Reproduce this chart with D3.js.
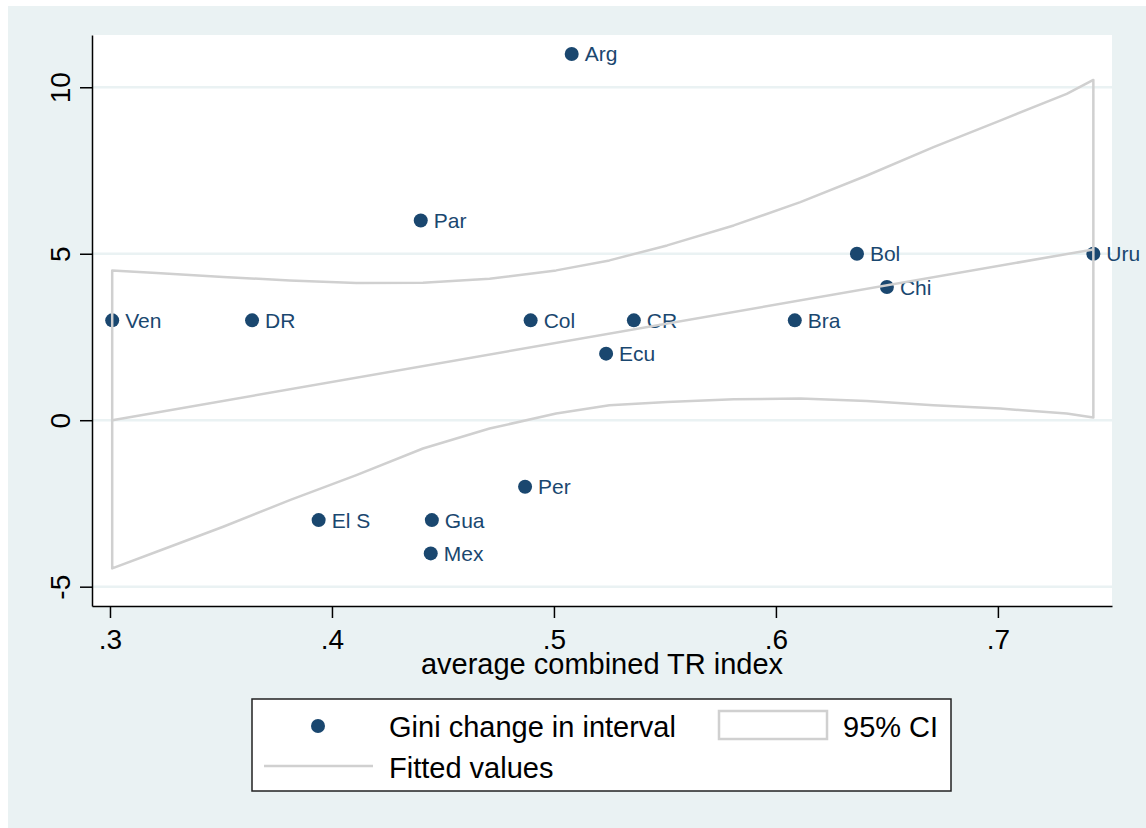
<!DOCTYPE html>
<html>
<head>
  <meta charset="utf-8">
  <title>Gini change vs TR index</title>
  <style>
  body { margin: 0; background: #fff; }
  svg text { font-family: "Liberation Sans", Arial, sans-serif; }
  .tick text { font-size: 28px; fill: #000; }
  .axisTitle { font-size: 29px; fill: #000; }
  .ptLabel { font-size: 21px; fill: #1a476f; }
  .legendText { font-size: 29px; fill: #000; }
  </style>
</head>
<body>
<script src="https://cdn.jsdelivr.net/npm/d3@7/dist/d3.min.js"></script>
<script>
  // scatter: country, average combined TR index, Gini change in interval
  const countries = ["Ven", "DR", "El S", "Par", "Gua", "Mex", "Per", "Col", "Arg", "Ecu", "CR", "Bra", "Bol", "Chi", "Uru"];
  const trIndex = [0.301, 0.364, 0.394, 0.440, 0.445, 0.4445, 0.487, 0.4895, 0.508, 0.5235, 0.536, 0.6085, 0.6365, 0.650, 0.743];
  const giniChange = [3, 3, -3, 6, -3, -4, -2, 3, 11, 2, 3, 3, 5, 4, 5];

  // fitted values (linear)
  const fitX = [0.301, 0.743];
  const fitY = [0.0, 5.13];

  // 95% CI band
  const ciX = [0.301, 0.321, 0.351, 0.381, 0.411, 0.441, 0.471, 0.501, 0.525, 0.551, 0.581, 0.611, 0.641, 0.671, 0.701, 0.731, 0.743];
  const ciUpper = [4.5, 4.42, 4.3, 4.2, 4.12, 4.13, 4.25, 4.5, 4.8, 5.25, 5.85, 6.55, 7.35, 8.2, 9.0, 9.8, 10.22];
  const ciLower = [-4.45, -3.95, -3.2, -2.4, -1.65, -0.85, -0.25, 0.2, 0.45, 0.55, 0.63, 0.65, 0.58, 0.45, 0.35, 0.2, 0.08];

  const xTicks = [0.3, 0.4, 0.5, 0.6, 0.7];
  const yTicks = [-5, 0, 5, 10];

  const width = 1146, height = 828;
  const plot = { left: 92, right: 1112, top: 35, bottom: 606 };
  const navy = "#1a476f";
  const ciGray = "#d0d0d0";
  const bg = "#eaf2f3";

  const xScale = d3.scaleLinear().domain([0.2919, 0.7514]).range([plot.left, plot.right]);
  const yScale = d3.scaleLinear().domain([-5.58, 11.57]).range([plot.bottom, plot.top]);

  const svg = d3.select("body").append("svg")
    .attr("width", width)
    .attr("height", height);

  // graph region + plot region
  svg.append("rect").attr("x", 8).attr("y", 6)
    .attr("width", width - 8).attr("height", height - 6)
    .attr("fill", bg);
  svg.append("rect")
    .attr("x", plot.left).attr("y", plot.top)
    .attr("width", plot.right - plot.left).attr("height", plot.bottom - plot.top)
    .attr("fill", "#fff");

  // gridlines
  svg.append("g").selectAll("line")
    .data(yTicks)
    .enter().append("line")
    .attr("x1", plot.left).attr("x2", plot.right)
    .attr("y1", d => yScale(d)).attr("y2", d => yScale(d))
    .attr("stroke", bg).attr("stroke-width", 2.5);

  // markers + labels
  const pts = countries.map((c, i) => ({ name: c, x: trIndex[i], y: giniChange[i] }));
  const scatter = svg.append("g").attr("id", "scatter");
  scatter.selectAll("circle")
    .data(pts)
    .enter().append("circle")
    .attr("cx", d => xScale(d.x))
    .attr("cy", d => yScale(d.y))
    .attr("r", 7)
    .attr("fill", navy);
  scatter.selectAll("text")
    .data(pts)
    .enter().append("text")
    .attr("class", "ptLabel")
    .attr("x", d => xScale(d.x) + 13)
    .attr("y", d => yScale(d.y) + 7.5)
    .text(d => d.name);

  // CI outline (closed) and fitted line drawn on top
  const band = ciX.map((x, i) => [x, ciUpper[i]])
    .concat(ciX.map((x, i) => [x, ciLower[i]]).reverse());
  const line = d3.line().x(d => xScale(d[0])).y(d => yScale(d[1]));

  svg.append("path")
    .attr("d", line(band) + "Z")
    .attr("fill", "none")
    .attr("stroke", ciGray)
    .attr("stroke-width", 2.5)
    .attr("stroke-linejoin", "round");

  svg.append("path")
    .attr("d", line(fitX.map((x, i) => [x, fitY[i]])))
    .attr("fill", "none")
    .attr("stroke", ciGray)
    .attr("stroke-width", 2.5);

  // axes
  const yAxis = d3.axisLeft(yScale).tickValues(yTicks).tickSize(12).tickSizeOuter(0).tickFormat(d => String(d));
  const gy = svg.append("g")
    .attr("transform", `translate(${plot.left},0)`)
    .call(yAxis);
  gy.selectAll(".tick text")
    .attr("x", 0).attr("dy", null)
    .attr("text-anchor", "middle")
    .attr("transform", "translate(-22,0) rotate(-90)");

  const xAxis = d3.axisBottom(xScale).tickValues(xTicks).tickSize(12).tickSizeOuter(0)
    .tickFormat(d => d3.format(".1f")(d).replace("0.", "."));
  const gx = svg.append("g")
    .attr("transform", `translate(0,${plot.bottom})`)
    .call(xAxis);
  gx.selectAll(".tick text").attr("y", 43).attr("dy", null);

  svg.selectAll(".domain, .tick line").attr("stroke", "#000").attr("stroke-width", 1.5);

  svg.append("text")
    .attr("class", "axisTitle")
    .attr("x", (plot.left + plot.right) / 2)
    .attr("y", 674)
    .attr("text-anchor", "middle")
    .text("average combined TR index");

  // legend
  const legend = svg.append("g").attr("id", "legend");
  legend.append("rect")
    .attr("x", 252).attr("y", 699).attr("width", 699).attr("height", 92)
    .attr("fill", "#fff").attr("stroke", "#222").attr("stroke-width", 1.5);
  legend.append("circle").attr("cx", 318).attr("cy", 726).attr("r", 7).attr("fill", navy);
  legend.append("text").attr("class", "legendText").attr("x", 389).attr("y", 737).text("Gini change in interval");
  legend.append("rect")
    .attr("x", 719).attr("y", 711).attr("width", 108).attr("height", 28)
    .attr("fill", "#fff").attr("stroke", ciGray).attr("stroke-width", 2.5);
  legend.append("text").attr("class", "legendText").attr("x", 843).attr("y", 737).text("95% CI");
  legend.append("line")
    .attr("x1", 264).attr("x2", 373).attr("y1", 766).attr("y2", 766)
    .attr("stroke", ciGray).attr("stroke-width", 2.5);
  legend.append("text").attr("class", "legendText").attr("x", 389).attr("y", 778).text("Fitted values");
</script>
</body>
</html>
